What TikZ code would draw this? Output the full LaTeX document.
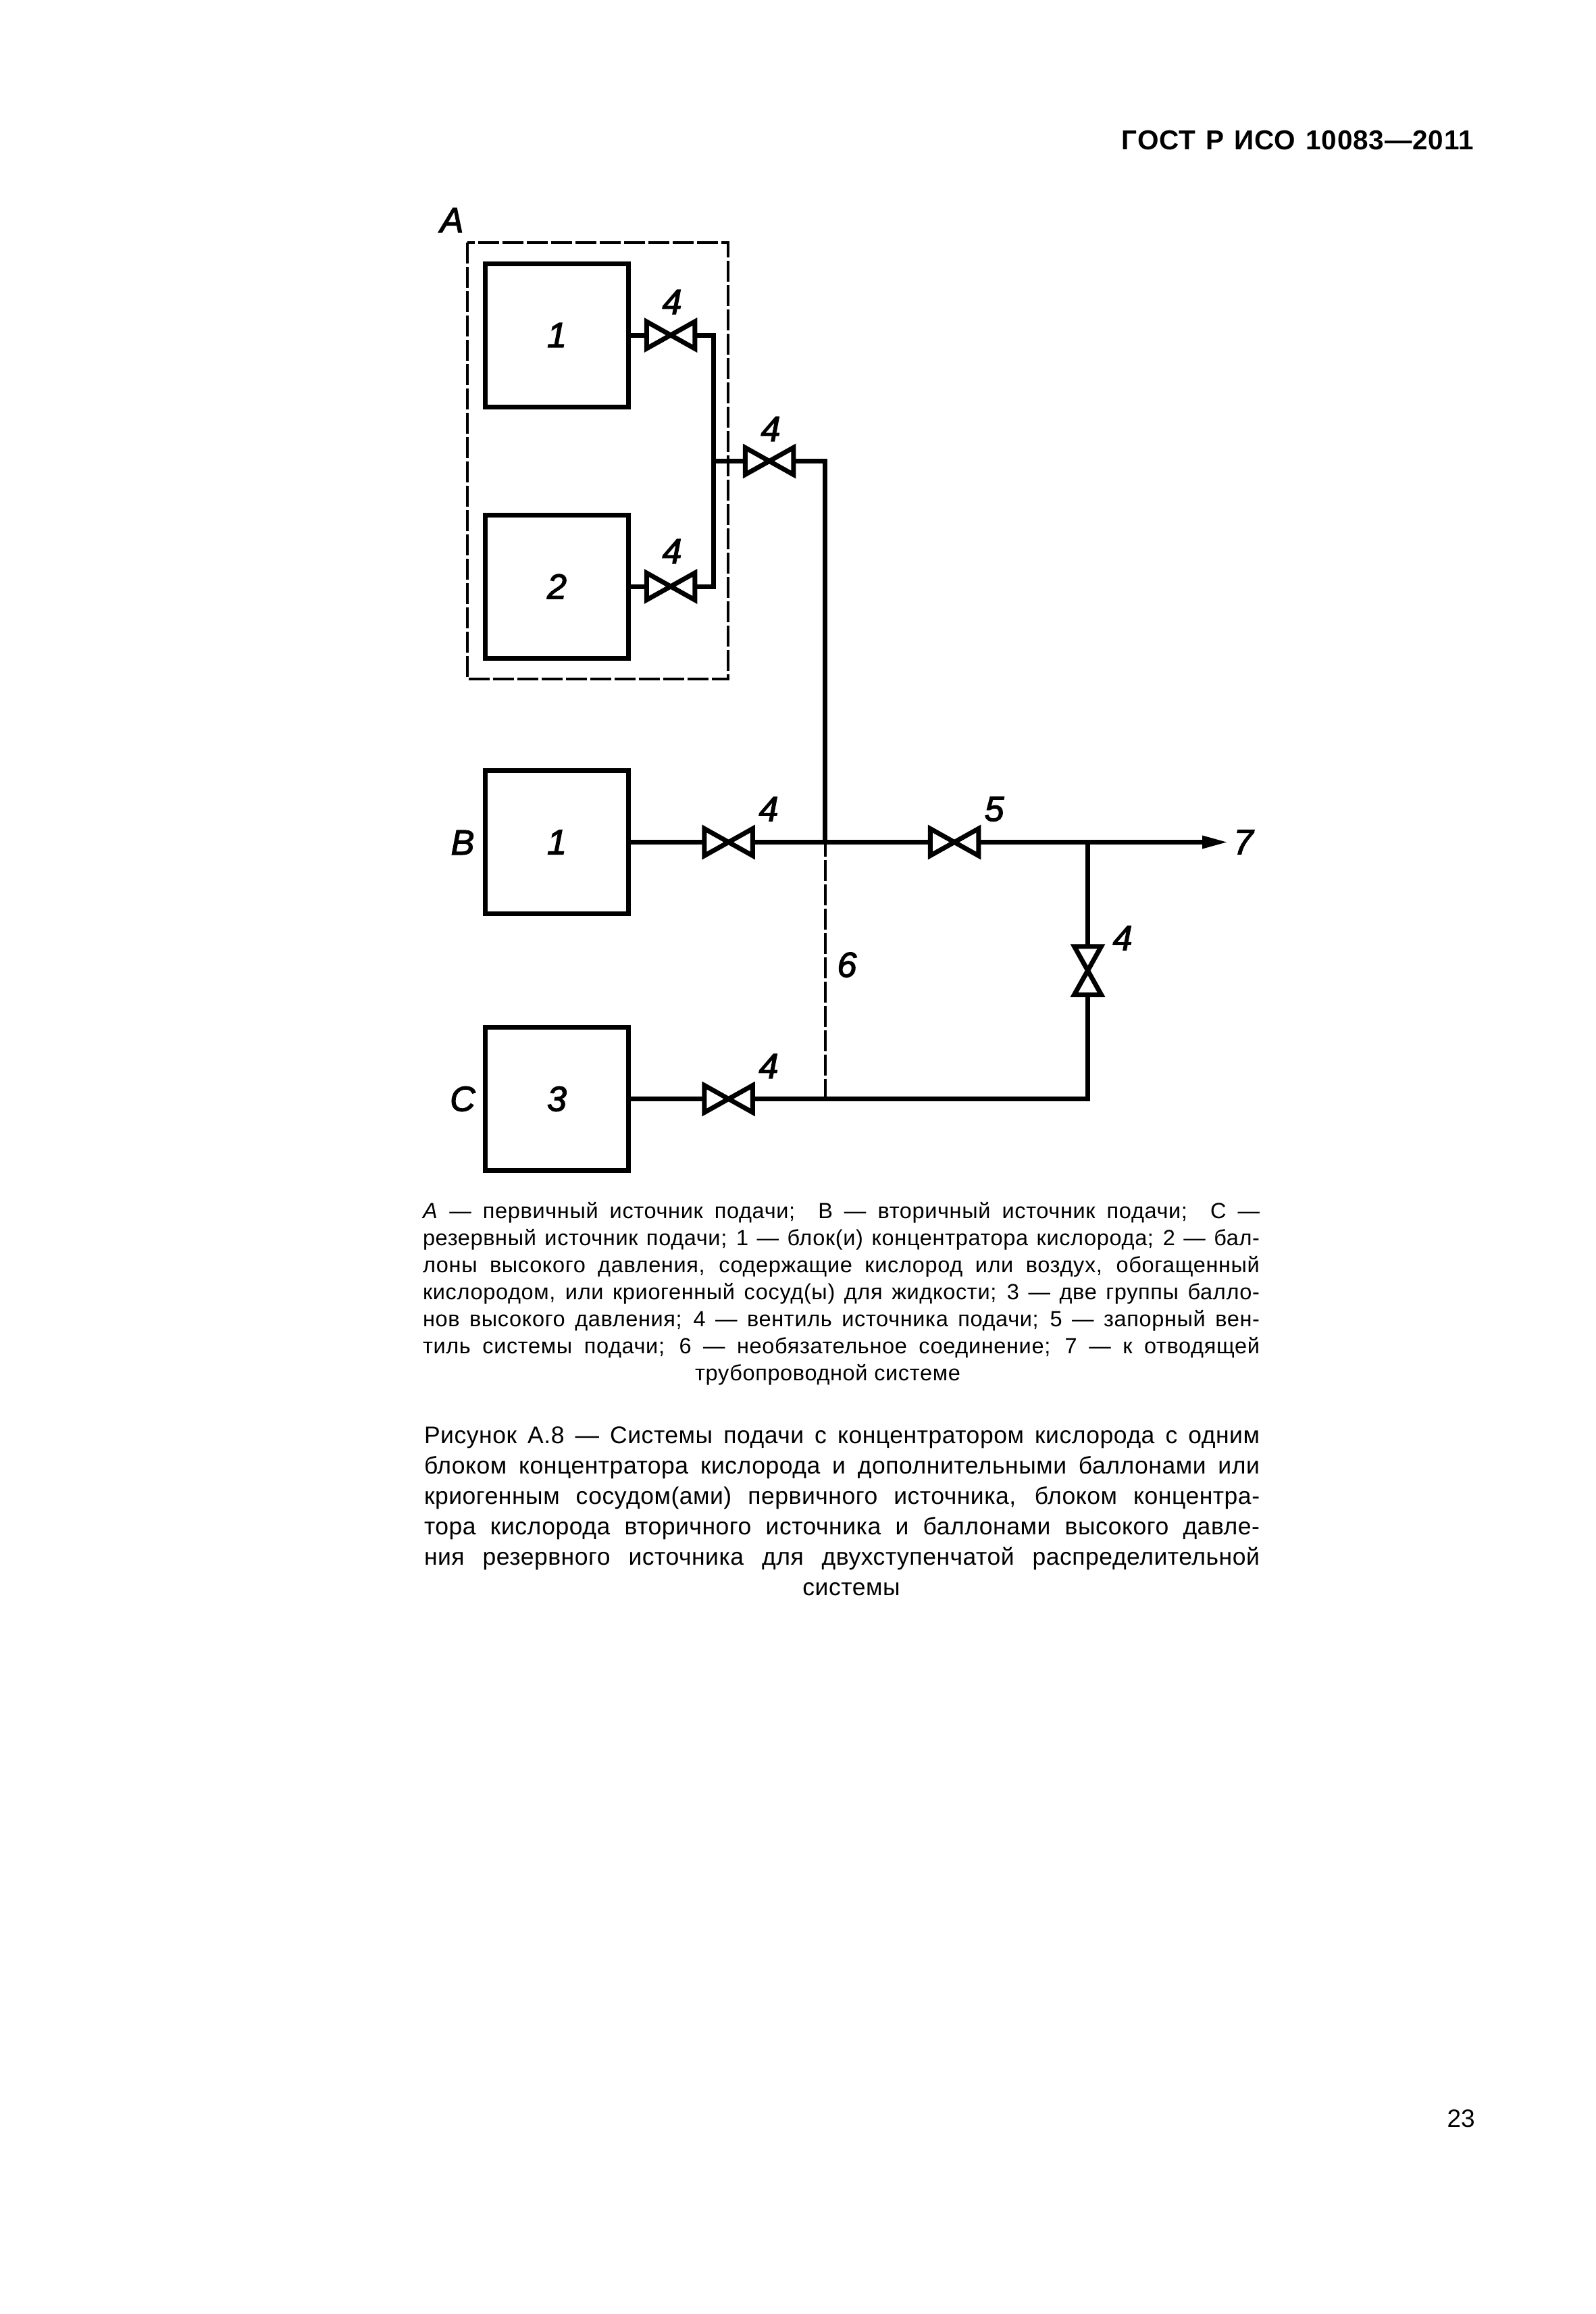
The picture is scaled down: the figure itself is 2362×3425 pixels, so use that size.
\documentclass[tikz,border=0pt]{standalone}
\usepackage{fontspec}
\setmainfont{Liberation Sans}
\newcommand{\hvalve}[3]{%
  \node[hvalvebox] (#1) at (#2,#3) {};
  \draw[pipe,fill=white] (#1.north west) -- (#1.south east) -- (#1.north east) -- (#1.south west) -- cycle;}
\newcommand{\vvalve}[3]{%
  \node[vvalvebox] (#1) at (#2,#3) {};
  \draw[pipe,fill=white] (#1.north west) -- (#1.north east) -- (#1.south west) -- (#1.south east) -- cycle;}
\tikzset{
  pipe/.style={line width=7pt,line join=miter,miter limit=10},
  hvalvebox/.style={inner sep=0pt,outer sep=0pt,minimum width=71.5pt,minimum height=40pt},
  vvalvebox/.style={inner sep=0pt,outer sep=0pt,minimum width=40pt,minimum height=71.5pt},
  unit/.style={draw,line width=7pt,inner sep=0pt,outer sep=0pt,minimum width=212pt,minimum height=212pt},
  dashbox/.style={line width=4pt,dash pattern=on 31pt off 5pt},
  dashline/.style={line width=4pt,dash pattern=on 31pt off 5pt,dash phase=10pt},
  lab/.style={inner sep=0pt,outer sep=0pt,font=\fontsize{52}{60}\selectfont\itshape\addfontfeature{FakeBold=2.5}},
  legendtext/.style={inner sep=0pt,outer sep=0pt,align=left,anchor=north west,font=\fontsize{32.5}{40}\selectfont\addfontfeature{LetterSpace=2}},
  captext/.style={inner sep=0pt,outer sep=0pt,align=left,anchor=north west,font=\fontsize{35.5}{45}\selectfont\addfontfeature{LetterSpace=1.5}},
}
\begin{document}
\begin{tikzpicture}[x=1pt,y=-1pt]
\useasboundingbox[fill=white] (0,0) rectangle (2362,3425);
\node[inner sep=0pt,anchor=base east,font=\fontsize{40.5}{48}\selectfont\bfseries\addfontfeature{LetterSpace=2}] (hdr) at (2182,221.7) {\makebox[521pt][s]{ГОСТ Р ИСО 10083—2011}};
\draw[dashbox] (692,359) rectangle (1077.5,1005);
\node[lab] (lA) at (669,326) {A};
\node[unit] (b1) at (824.5,496) {};
\node[unit] (b2) at (824.5,868) {};
\node[unit] (b3) at (824.5,1246.5) {};
\node[unit] (b4) at (824.5,1626.5) {};
\node[lab] at (b1) {1};
\node[lab] at (b2) {2};
\node[lab] at (b3) {1};
\node[lab] at (b4) {3};
\node[lab] (lB) at (685,1247) {B};
\node[lab] (lC) at (685,1626.5) {C};
\hvalve{v1}{993}{496}
\hvalve{v2}{993}{868}
\hvalve{v3}{1139}{682.5}
\hvalve{v4}{1078.7}{1246.5}
\hvalve{v5}{1413}{1246.5}
\hvalve{v6}{1078.7}{1626.5}
\vvalve{v7}{1610.5}{1436.5}
\coordinate (up1) at (1056.6,496);
\coordinate (up2) at (1056.6,868);
\coordinate (upj) at (1056.6,682.5);
\coordinate (top) at (1221.5,682.5);
\coordinate (mid) at (1221.5,1246.5);
\coordinate (low) at (1221.5,1626.5);
\coordinate (tee) at (1610.5,1246.5);
\coordinate (corner) at (1610.5,1626.5);
\coordinate (tip) at (1816,1246.5);
\coordinate (shaft) at (1785,1246.5);
\coordinate (headup) at (1780,1236.5);
\coordinate (headdown) at (1780,1256.5);
\draw[pipe] (b1.east) -- (v1.west);
\draw[pipe] (b2.east) -- (v2.west);
\draw[pipe] (v1.east) -- (up1) -- (up2) -- (v2.east);
\draw[pipe] (upj) -- (v3.west);
\draw[pipe] (v3.east) -- (top) -- (mid);
\draw[pipe] (b3.east) -- (v4.west);
\draw[pipe] (v4.east) -- (v5.west);
\draw[pipe] (v5.east) -- (shaft);
\fill (tip) -- (headup) -- (headdown) -- cycle;
\draw[pipe] (tee) -- (v7.north);
\draw[pipe] (v7.south) -- (corner) -- (v6.east);
\draw[pipe] (b4.east) -- (v6.west);
\draw[dashline] (mid) -- (low);
\node[lab] at (995,447) {4};
\node[lab] at (995,816) {4};
\node[lab] at (1141,635) {4};
\node[lab] at (1138,1197.5) {4};
\node[lab] at (1472,1197.5) {5};
\node[lab] at (1841,1246.5) {7};
\node[lab] at (1254,1428) {6};
\node[lab] at (1662,1388.5) {4};
\node[lab] at (1138,1578) {4};
\node[legendtext] (legend) at (626,1779) {%
\makebox[1239pt][s]{\textit{А} — первичный источник подачи;\ \ В — вторичный источник подачи;\ \ С —}\\
\makebox[1239pt][s]{резервный источник подачи; 1 — блок(и) концентратора кислорода; 2 — бал-}\\
\makebox[1239pt][s]{лоны высокого давления, содержащие кислород или воздух, обогащенный}\\
\makebox[1239pt][s]{кислородом, или криогенный сосуд(ы) для жидкости; 3 — две группы балло-}\\
\makebox[1239pt][s]{нов высокого давления; 4 — вентиль источника подачи; 5 — запорный вен-}\\
\makebox[1239pt][s]{тиль системы подачи; 6 — необязательное соединение; 7 — к отводящей}\\
\makebox[1239pt][c]{\hspace*{-40pt}трубопроводной системе}};
\node[captext] (caption) at (628,2112) {%
\makebox[1237pt][s]{Рисунок А.8 — Системы подачи с концентратором кислорода с одним}\\
\makebox[1237pt][s]{блоком концентратора кислорода и дополнительными баллонами или}\\
\makebox[1237pt][s]{криогенным сосудом(ами) первичного источника, блоком концентра-}\\
\makebox[1237pt][s]{тора кислорода вторичного источника и баллонами высокого давле-}\\
\makebox[1237pt][s]{ния резервного источника для двухступенчатой распределительной}\\
\makebox[1237pt][c]{\hspace*{28pt}системы}};
\node[inner sep=0pt,anchor=base east,font=\fontsize{37}{44}\selectfont] (pg) at (2184,3148) {23};
\end{tikzpicture}
\end{document}
